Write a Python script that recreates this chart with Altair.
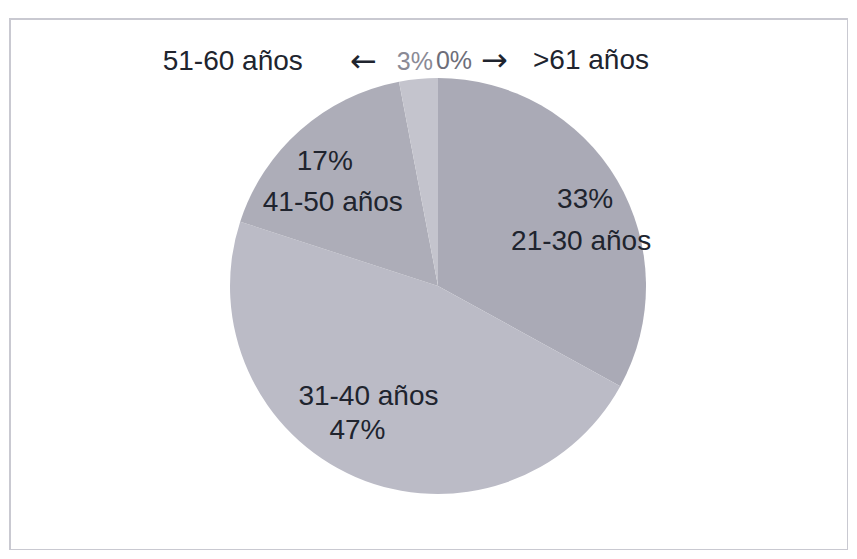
import altair as alt
import pandas as pd

categories = ["21-30 años", "31-40 años", "41-50 años", "51-60 años", ">61 años"]
values = [33, 47, 17, 3, 0]
pct_labels = ["33%", "47%", "17%", "3%", "0%"]
colors = ["#aaaab6", "#bbbbc6", "#adadb8", "#c4c4cd", "#aaaab6"]

df = pd.DataFrame({
    "cat": categories,
    "value": values,
    "pct": pct_labels,
    "idx": list(range(len(categories))),
})

CX, CY, R = 428, 267, 208
FONT = "Liberation Sans"
DARK = "#20242e"

base = alt.Chart(df).transform_window(
    end="sum(value)", sort=[alt.SortField("idx")], frame=[None, 0]
).transform_calculate(
    start="datum.end - datum.value",
    mid="datum.end - datum.value / 2",
).encode(
    x=alt.value(CX),
    y=alt.value(CY),
)

theta_scale = alt.Scale(domain=[0, 100])

pie = base.mark_arc(outerRadius=R, stroke=None).encode(
    theta=alt.Theta("start:Q", scale=theta_scale, stack=None),
    theta2="end:Q",
    color=alt.Color("cat:N", scale=alt.Scale(domain=categories, range=colors), legend=None),
)


def polar_text(cat, text_expr, radius, dx, dy, color=DARK, size=28, align="center", font=FONT):
    return base.transform_filter(alt.datum.cat == cat).transform_calculate(
        lbl=text_expr
    ).mark_text(
        radius=radius, dx=dx, dy=dy, font=font, fontSize=size, color=color,
        align=align, baseline="middle",
    ).encode(
        theta=alt.Theta("mid:Q", scale=theta_scale, stack=None),
        text="lbl:N",
    )


layers = [
    pie,
    polar_text("21-30 años", "datum.pct", 150, 18, -10),
    polar_text("21-30 años", "datum.cat", 150, 14, 32),
    polar_text("41-50 años", "datum.pct", 150, -14, -11),
    polar_text("41-50 años", "datum.cat", 150, -6, 30),
    polar_text("31-40 años", "datum.cat", 150, -10, -27),
    polar_text("31-40 años", "datum.pct", 150, -21, 7),
    # small slices: percent labels outside, with arrows pointing to names
    polar_text("51-60 años", "datum.pct", 225, -2, 0, color="#8a8a95", size=25),
    polar_text("51-60 años", "'←'", 225, -40, 0, size=32, align="right", font="DejaVu Sans"),
    polar_text("51-60 años", "datum.cat", 225, -114, 0, align="right"),
    polar_text(">61 años", "datum.pct", 225, 16, 0, color="#6e6e79", size=25),
    polar_text(">61 años", "'→'", 225, 43, 0, size=32, align="left", font="DejaVu Sans"),
    polar_text(">61 años", "datum.cat", 225, 95, 0, align="left"),
]

chart = alt.layer(*layers).properties(
    width=838,
    height=531,
    padding={"left": 2, "top": 11, "right": 0, "bottom": 0},
    background="white",
).configure_view(
    stroke="#c9c9d1",
    strokeWidth=2,
)

chart.save("out.html", embed_options={"renderer": "svg", "actions": False})
